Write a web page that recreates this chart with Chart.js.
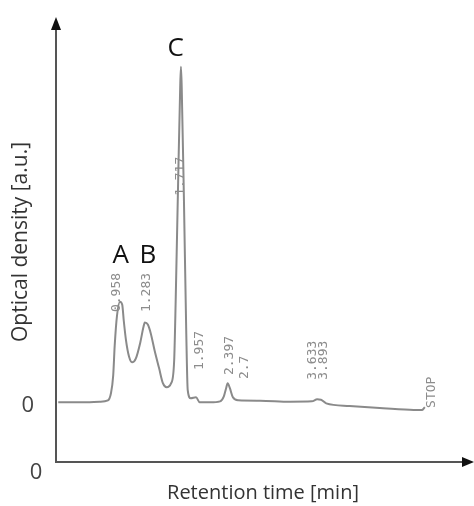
<!DOCTYPE html>
<html>
<head>
<meta charset="utf-8">
<script src="https://cdn.jsdelivr.net/npm/chart.js@4"></script>
<style>
  html, body { margin: 0; padding: 0; background: #fff; }
  #wrap { width: 474px; height: 506px; }
</style>
</head>
<body>
<div id="wrap"><canvas id="chromatogram"></canvas></div>
<script>
// trace: retention time [min] and optical density (peak C = 100)
const times = [0.03, 0.32, 0.58, 0.69, 0.73, 0.76, 0.78, 0.81, 0.85, 0.88, 0.90, 0.93, 0.97, 1.01, 1.06,
  1.12, 1.16, 1.18, 1.22, 1.26, 1.31, 1.37, 1.42, 1.47, 1.53, 1.57, 1.59, 1.62, 1.65, 1.66, 1.67, 1.70,
  1.73, 1.75, 1.79, 1.86, 1.91, 2.05, 2.18, 2.23, 2.26, 2.28, 2.31, 2.35, 2.42, 2.71, 3.11, 3.40, 3.47,
  3.52, 3.59, 3.90, 4.30, 4.70, 4.86, 4.90]
const density = [0.4, 0.4, 0.6, 1.0, 3.1, 8.4, 17.3, 26.1, 30.3, 29.4, 24.7, 18.8, 14.0, 12.3, 13.4,
  18.2, 22.6, 24.1, 23.5, 20.8, 15.8, 10.5, 6.1, 4.9, 6.1, 12.9, 30.6, 63.1, 94.1, 100, 94.1, 60.1,
  21.7, 4.0, 1.6, 1.9, 0.4, 0.4, 0.7, 2.2, 4.6, 6.1, 4.6, 1.9, 1.0, 0.9, 0.6, 0.7, 1.3,
  1.2, 0.1, -0.7, -1.3, -1.8, -1.9, -1.0]

// peak letters
const peakNames = ['A', 'B', 'C']
const peakNameTimes = [0.86, 1.22, 1.59]
const peakNameValues = [43.9, 43.9, 105.3]

// numbers printed by the recorder on the paper
const paperTexts = ['0.958', '1.283', '1.717', '1.957', '2.397', '2.7', '3.633', '3.893', 'STOP']
const paperTimes = [0.81, 1.20, 1.66, 1.91, 2.30, 2.50, 3.41, 3.55, 4.99]
const paperValues = [33, 33, 67.5, 15.8, 14.3, 10.8, 12.9, 12.9, 3.4]

const FONT = '"Open Sans", "Liberation Sans", sans-serif'
const TEXT_COLOR = '#333333'
const AXIS_COLOR = '#555555'

const annotations = {
    id: 'annotations',
    afterDatasetsDraw(chart) {
        const { ctx, scales: { x, y } } = chart

        ctx.save()
        ctx.fillStyle = '#8c8c8c'
        ctx.font = '13px "DejaVu Sans Mono", monospace'
        ctx.textAlign = 'center'
        ctx.textBaseline = 'middle'
        paperTexts.forEach((t, i) => {
            ctx.save()
            ctx.translate(x.getPixelForValue(paperTimes[i]), y.getPixelForValue(paperValues[i]))
            ctx.rotate(-Math.PI / 2)
            ctx.fillText(t, 0, 0)
            ctx.restore()
        })

        ctx.fillStyle = '#111111'
        ctx.font = '26px ' + FONT
        peakNames.forEach((n, i) => {
            ctx.fillText(n, x.getPixelForValue(peakNameTimes[i]), y.getPixelForValue(peakNameValues[i]))
        })
        ctx.restore()
    },
    afterDraw(chart) {
        const { ctx, chartArea } = chart
        ctx.save()
        ctx.fillStyle = '#111111'
        // arrow on the y axis
        ctx.beginPath()
        ctx.moveTo(chartArea.left, chartArea.top - 5)
        ctx.lineTo(chartArea.left - 5, chartArea.top + 8)
        ctx.lineTo(chartArea.left + 5, chartArea.top + 8)
        ctx.closePath()
        ctx.fill()
        // arrow on the x axis
        ctx.beginPath()
        ctx.moveTo(chartArea.right + 4, chartArea.bottom)
        ctx.lineTo(chartArea.right - 8, chartArea.bottom - 5)
        ctx.lineTo(chartArea.right - 8, chartArea.bottom + 5)
        ctx.closePath()
        ctx.fill()
        ctx.restore()
    }
}

const el = document.getElementById('chromatogram')

new Chart(el, {
    type: 'line',
    data: {
        datasets: [{
            data: times.map((t, i) => ({ x: t, y: density[i] })),
            borderColor: '#8a8a8a',
            borderWidth: 2,
            pointRadius: 0,
            fill: false,
            cubicInterpolationMode: 'monotone'
        }]
    },
    options: {
        responsive: true,
        maintainAspectRatio: false,
        animation: false,
        layout: { padding: { top: 22, right: 4 } },
        plugins: {
            legend: { display: false },
            tooltip: { enabled: false }
        },
        scales: {
            x: {
                type: 'linear',
                min: 0,
                max: 5.5,
                grid: { display: false },
                border: { display: true, color: AXIS_COLOR, width: 2 },
                afterBuildTicks: scale => { scale.ticks = [{ value: 0 }] },
                afterFit: scale => { scale.height = 44 },
                ticks: {
                    color: '#444',
                    font: { family: FONT, size: 22 },
                    labelOffset: -20,
                    padding: -10,
                    maxRotation: 0,
                    callback: () => '0'
                },
                title: {
                    display: true,
                    text: 'Retention time [min]',
                    color: TEXT_COLOR,
                    font: { family: FONT, size: 20 },
                    padding: { top: 0, bottom: 1 }
                }
            },
            y: {
                min: -17.3,
                max: 113.3,
                grid: { display: false },
                border: { display: true, color: AXIS_COLOR, width: 2 },
                afterBuildTicks: scale => { scale.ticks = [{ value: 0 }] },
                afterFit: scale => {
                    scale.width = 56
                    scale.paddingTop = 0
                    scale.paddingBottom = 0
                },
                ticks: {
                    color: '#444',
                    font: { family: FONT, size: 22 },
                    padding: 14,
                    labelOffset: 2,
                    callback: () => '0'
                },
                title: {
                    display: true,
                    text: 'Optical density [a.u.]',
                    color: TEXT_COLOR,
                    font: { family: FONT, size: 21 },
                    padding: { top: 8, bottom: 0 }
                }
            }
        }
    },
    plugins: [annotations]
})
</script>
</body>
</html>
